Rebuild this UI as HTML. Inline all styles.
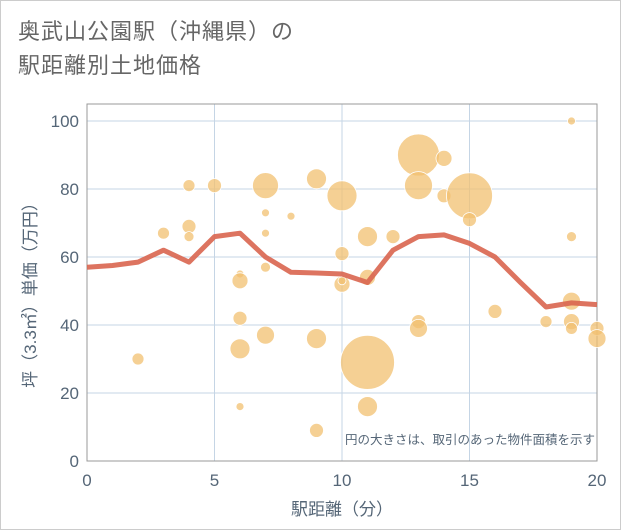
<!DOCTYPE html>
<html><head><meta charset="utf-8"><style>
body{margin:0;background:#fff;}
#wrap{position:relative;width:621px;height:530px;border:1px solid #ccc;box-sizing:border-box;background:#fff;font-family:"Liberation Sans","Noto Sans CJK JP",sans-serif;}
#title{position:absolute;left:17px;top:14px;font-size:22px;line-height:34px;color:#666;letter-spacing:1px;}
svg{position:absolute;left:0;top:0;}
</style></head><body>
<div id="wrap">
<div id="title">奥武山公園駅（沖縄県）の<br>駅距離別土地価格</div>
<svg id="chart" width="621" height="530"></svg>
</div>
<script>
const lineX=[0,1,2,3,4,5,6,7,8,9,10,11,12,13,14,15,16,17,18,19,20];
const lineY=[57,57.5,58.5,62,58.5,66,67,60,55.5,55.3,55,52.5,62,66,66.5,64,60,52.5,45.3,46.5,46];
const bubX=[2,3,4,4,4,5,6,6,6,6,6,7,7,7,7,7,8,9,9,9,10,10,10,10,11,11,11,11,12,13,13,13,13,14,14,15,15,16,18,19,19,19,19,19,20,20];
const bubY=[30,67,81,69,66,81,55,53,42,33,16,81,73,67,57,37,72,83,36,9,78,61,52,53,66,54,29,16,66,90,81,41,39,89,78,78,71,44,41,100,66,47,41,39,39,36];
const bubR=[6,6,6,7,5,7,4,8,7,10,4,13,4,4,5,9,4,10,10,7,15,7,8,4,10,8,27,10,7,21,14,7,9,8,7,23,7,7,6,4,5,9,8,6,7,9];
const xTicks=[0,5,10,15,20];
const yTicks=[0,20,40,60,80,100];
const NS="http://www.w3.org/2000/svg";
const svg=document.getElementById('chart');
const L=86,R=596,T=103,B=460;
const sx=v=>L+(v-0)/20*(R-L);
const sy=v=>460-v*3.4;
function mk(t,a){const e=document.createElementNS(NS,t);for(const k in a)e.setAttribute(k,a[k]);svg.appendChild(e);return e;}
yTicks.forEach(v=>{
 const g=mk('line',{x1:L,x2:R,y1:sy(v),y2:sy(v),stroke:'#c5d5e5','stroke-width':1});
 
 
 const t=mk('text',{x:L-8,y:sy(v)+6,'text-anchor':'end','font-size':17,fill:'#556677'});
 t.textContent=v;
 
 
});
xTicks.forEach(v=>{
 const g=mk('line',{x1:sx(v),x2:sx(v),y1:T,y2:B,stroke:'#c5d5e5','stroke-width':1});
 
 
 const t=mk('text',{x:sx(v),y:B+25,'text-anchor':'middle','font-size':17,fill:'#556677'});
 t.textContent=v;
 
 
});
const fr=mk('rect',{x:L,y:T,width:R-L,height:B-T,fill:'none',stroke:'#999','stroke-width':1});


bubX.forEach((x,i)=>{
 const c=mk('circle',{cx:sx(x),cy:sy(bubY[i]),r:bubR[i],fill:'#f2c070','fill-opacity':0.75,stroke:'#fff','stroke-width':0.8});
 
 
});
const pl=mk('polyline',{points:lineX.map((x,i)=>sx(x)+','+sy(lineY[i])).join(' '),fill:'none',stroke:'#d9654f','stroke-opacity':0.9,'stroke-width':5,'stroke-linejoin':'round'});


const note=mk('text',{x:R-2,y:443,'text-anchor':'end','font-size':12.5,fill:'#556677'});
note.textContent='円の大きさは、取引のあった物件面積を示す';


const xt=mk('text',{x:(L+R)/2,y:514,'text-anchor':'middle','font-size':17,fill:'#556677'});
xt.textContent='駅距離（分）';


const yt=mk('text',{x:0,y:0,'text-anchor':'middle','font-size':17,fill:'#556677',transform:'translate(35,290) rotate(-90)'});
yt.textContent='坪（3.3㎡）単価（万円）';


</script>
</body></html>
